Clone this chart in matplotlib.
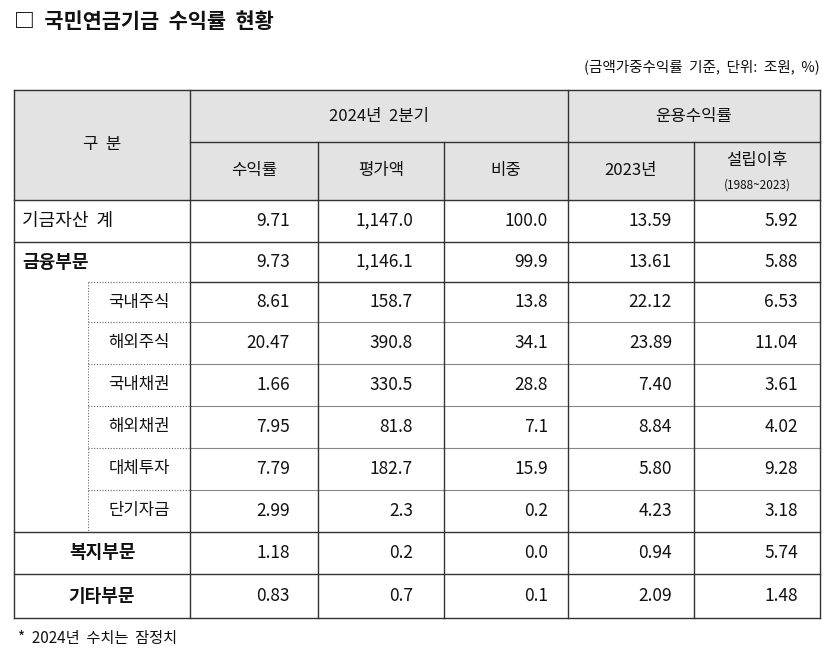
import matplotlib.pyplot as plt

plt.rcParams["font.family"] = ["Noto Sans CJK KR", "Noto Sans CJK JP",
                               "Noto Sans CJK SC", "DejaVu Sans"]

W, H = 830, 653

row_labels = ["기금자산  계", "금융부문", "국내주식", "해외주식", "국내채권",
              "해외채권", "대체투자", "단기자금", "복지부문", "기타부문"]
return_q2 = ["9.71", "9.73", "8.61", "20.47", "1.66", "7.95", "7.79", "2.99", "1.18", "0.83"]
value_q2 = ["1,147.0", "1,146.1", "158.7", "390.8", "330.5", "81.8", "182.7", "2.3", "0.2", "0.7"]
weight_q2 = ["100.0", "99.9", "13.8", "34.1", "28.8", "7.1", "15.9", "0.2", "0.0", "0.1"]
return_2023 = ["13.59", "13.61", "22.12", "23.89", "7.40", "8.84", "5.80", "4.23", "0.94", "2.09"]
return_since = ["5.92", "5.88", "6.53", "11.04", "3.61", "4.02", "9.28", "3.18", "5.74", "1.48"]

col_x = [14, 190, 318, 444, 568, 694, 820]
row_y = [200, 242, 282, 322, 364, 406, 448, 490, 532, 574, 618]
sub_x = 88

fig = plt.figure(figsize=(W / 100, H / 100), dpi=100)
ax = fig.add_axes([0, 0, 1, 1])
ax.set_xlim(0, W)
ax.set_ylim(H, 0)
ax.axis("off")

txt = "#111111"
line_c = "#333333"

# title
ax.text(14, 22, "□  국민연금기금  수익률  현황", fontsize=15, fontweight="bold",
        va="center", ha="left", color=txt)
ax.text(820, 67, "(금액가중수익률  기준,  단위:  조원,  %)", fontsize=10.5,
        va="center", ha="right", color=txt)

# header background
ax.add_patch(plt.Rectangle((14, 90), 806, 110, color="#e3e3e3", zorder=0))

lw = 1.0
for y in [90, 200, 242, 532, 574, 618]:
    ax.plot([14, 820], [y, y], color=line_c, lw=lw)
ax.plot([190, 820], [142, 142], color=line_c, lw=lw)
ax.plot([190, 820], [282, 282], color=line_c, lw=lw)
ax.plot([sub_x, 190], [282, 282], color="#666666", lw=0.8, ls=(0, (1, 1.5)))
for y in row_y[3:8]:
    ax.plot([sub_x, 190], [y, y], color="#666666", lw=0.8, ls=(0, (1, 1.5)))
    ax.plot([190, 820], [y, y], color="#888888", lw=0.8)
ax.plot([sub_x, sub_x], [282, 532], color="#666666", lw=0.8, ls=(0, (1, 1.5)))
for x in [14, 190, 568, 820]:
    ax.plot([x, x], [90, 618], color=line_c, lw=lw)
for x in [318, 444, 694]:
    ax.plot([x, x], [142, 618], color=line_c, lw=lw)

# header text
fs = 12
ax.text(102, 145, "구  분", fontsize=fs, ha="center", va="center", color=txt)
ax.text(379, 116, "2024년  2분기", fontsize=fs, ha="center", va="center", color=txt)
ax.text(694, 116, "운용수익률", fontsize=fs, ha="center", va="center", color=txt)
for lab, x0, x1 in [("수익률", 190, 318), ("평가액", 318, 444),
                    ("비중", 444, 568), ("2023년", 568, 694)]:
    ax.text((x0 + x1) / 2, 171, lab, fontsize=fs, ha="center", va="center", color=txt)
ax.text(757, 160, "설립이후", fontsize=fs, ha="center", va="center", color=txt)
ax.text(757, 185, "(1988~2023)", fontsize=8.5, ha="center", va="center", color=txt)

# body
cols = [return_q2, value_q2, weight_q2, return_2023, return_since]
pads = [28, 31, 20, 22, 22]
for i, lab in enumerate(row_labels):
    yc = (row_y[i] + row_y[i + 1]) / 2
    if i == 0:
        ax.text(22, yc, lab, fontsize=fs + 1, ha="left", va="center", color=txt)
    elif i == 1:
        ax.text(22, yc, lab, fontsize=fs + 1, fontweight="bold", ha="left", va="center", color=txt)
    elif i >= 8:
        ax.text(102, yc, lab, fontsize=fs + 1, fontweight="bold", ha="center", va="center", color=txt)
    else:
        ax.text(139, yc, lab, fontsize=fs, ha="center", va="center", color=txt)
    for j, vals in enumerate(cols):
        ax.text(col_x[j + 2] - pads[j], yc, vals[i], fontsize=fs + 0.5,
                ha="right", va="center", color=txt)

ax.text(18, 638, "*  2024년  수치는  잠정치", fontsize=11, ha="left", va="center", color=txt)

fig.savefig("out.png", dpi=100)
